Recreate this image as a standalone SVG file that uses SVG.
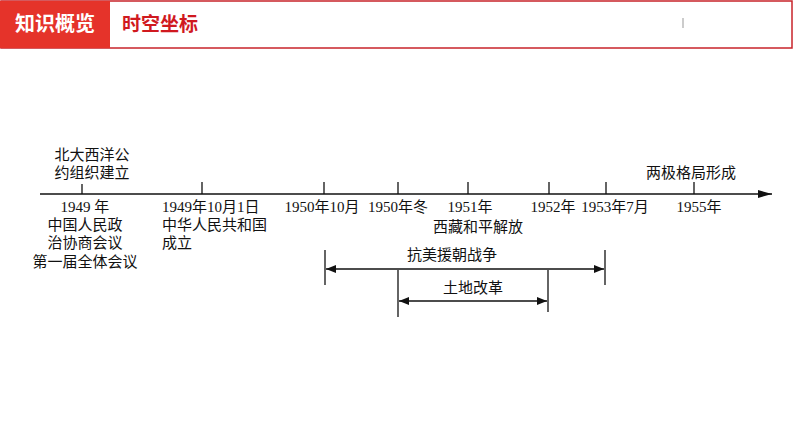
<svg xmlns="http://www.w3.org/2000/svg" width="794" height="447" viewBox="0 0 794 447">
<defs>
<style>
.t{font-family:"Liberation Serif","Noto Sans CJK SC",serif;font-size:15px;fill:#111}
.m{text-anchor:middle}
.ln{stroke:#111;stroke-width:1.3;fill:none}
</style>
<marker id="ah" viewBox="0 0 10 8" refX="10" refY="4" markerWidth="10" markerHeight="8" markerUnits="userSpaceOnUse" orient="auto-start-reverse">
<path d="M0,0 L10,4 L0,8 Z" fill="#111"/>
</marker>
<marker id="ax" viewBox="0 0 14 8" refX="14" refY="4" markerWidth="14" markerHeight="8" markerUnits="userSpaceOnUse" orient="auto">
<path d="M0,0 L14,4 L0,8 Z" fill="#111"/>
</marker>
</defs>
<rect width="794" height="447" fill="#fff"/>
<g id="header">
<rect x="1" y="1" width="791" height="47" fill="#fff" stroke="#c8232a" stroke-width="1.5"/>
<rect x="0" y="1" width="110" height="47" fill="#e5332a"/>
<text x="55" y="31" text-anchor="middle" font-family="Noto Sans CJK SC,sans-serif" font-weight="bold" font-size="20" fill="#fff">知识概览</text>
<text x="122" y="31" font-family="Noto Sans CJK SC,sans-serif" font-weight="bold" font-size="19" fill="#d0191f">时空坐标</text>
<line x1="683" y1="18" x2="683" y2="28" stroke="#999" stroke-width="1"/>
</g>
<g id="connectors">
<line class="ln" x1="40" y1="194" x2="772" y2="194" marker-end="url(#ax)"/>
<line class="ln" x1="82" y1="184" x2="82" y2="194"/>
<line class="ln" x1="202" y1="182" x2="202" y2="194"/>
<line class="ln" x1="324" y1="182" x2="324" y2="194"/>
<line class="ln" x1="398" y1="182" x2="398" y2="194"/>
<line class="ln" x1="468" y1="182" x2="468" y2="194"/>
<line class="ln" x1="549" y1="182" x2="549" y2="194"/>
<line class="ln" x1="606" y1="182" x2="606" y2="194"/>
<line class="ln" x1="694" y1="182" x2="694" y2="194"/>
<line class="ln" x1="325" y1="250" x2="325" y2="285"/>
<line class="ln" x1="605" y1="250" x2="605" y2="285"/>
<line class="ln" x1="326" y1="269" x2="604" y2="269" marker-start="url(#ah)" marker-end="url(#ah)"/>
<line class="ln" x1="398" y1="270" x2="398" y2="317"/>
<line class="ln" x1="548" y1="270" x2="548" y2="312"/>
<line class="ln" x1="399" y1="301" x2="547" y2="301" marker-start="url(#ah)" marker-end="url(#ah)"/>
</g>
<g id="n1949nato">
<text class="t m" x="92" y="160">北大西洋公</text>
<text class="t m" x="92" y="178">约组织建立</text>
</g>
<g id="n1949cppcc">
<text class="t m" x="85" y="212">1949 年</text>
<text class="t m" x="85" y="230">中国人民政</text>
<text class="t m" x="85" y="248">治协商会议</text>
<text class="t m" x="85" y="267">第一届全体会议</text>
</g>
<g id="n1949prc">
<text class="t" x="162" y="212">1949年10月1日</text>
<text class="t" x="162" y="230">中华人民共和国</text>
<text class="t" x="162" y="248">成立</text>
</g>
<g id="n1950oct"><text class="t m" x="322" y="212">1950年10月</text></g>
<g id="n1950win"><text class="t m" x="398" y="212">1950年冬</text></g>
<g id="n1951">
<text class="t m" x="470" y="212">1951年</text>
<text class="t m" x="478" y="232">西藏和平解放</text>
</g>
<g id="n1952"><text class="t m" x="553" y="212">1952年</text></g>
<g id="n1953"><text class="t m" x="615" y="212">1953年7月</text></g>
<g id="n1955">
<text class="t m" x="699" y="212">1955年</text>
<text class="t m" x="691" y="178">两极格局形成</text>
</g>
<g id="nwar"><text class="t m" x="452" y="260">抗美援朝战争</text></g>
<g id="nland"><text class="t m" x="473" y="293">土地改革</text></g>
</svg>
